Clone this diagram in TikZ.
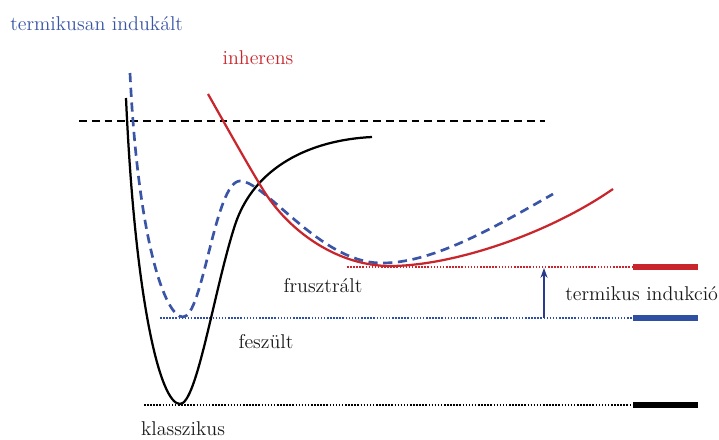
\documentclass[tikz,border=0pt]{standalone}
\usepackage{tikz}
\usetikzlibrary{arrows.meta,positioning}
\definecolor{kurvblue}{HTML}{3A55A6}
\definecolor{barblue}{HTML}{2F4FA3}
\definecolor{inhred}{HTML}{C8262C}
\definecolor{arrnavy}{HTML}{2A3B8F}
\definecolor{darktext}{HTML}{1A1A1A}

\begin{document}
\begin{tikzpicture}[x=0.25mm, y=-0.25mm,
  lbl/.style={font=\fontsize{14.2}{16}\selectfont, inner sep=0pt},
  levelline/.style={line width=1.6pt, dash pattern=on 1.1pt off 1.1pt},
  levelbar/.style={line width=3.6pt}]
\useasboundingbox (0,0) rectangle (719,439);

% labels
\node[lbl, anchor=west, text=kurvblue] (tind) at (10,24) {termikusan indukált};
\node[lbl, text=inhred] (inh) at (258,58) {inherens};
\node[lbl, text=darktext] (fru) at (323,286) {frusztrált};
\node[lbl, text=darktext] (fesz) at (266,342) {feszült};
\node[lbl, text=darktext] (klass) at (183,429) {klasszikus};
\node[lbl, anchor=west, text=darktext] (tindu) at (565,294) {termikus indukció};

% level lines
\coordinate (dL) at (79,121);  \coordinate (dR) at (545,121);
\coordinate (rL) at (347,267); \coordinate (rM) at (633,267); \coordinate (rR) at (698,267);
\coordinate (bL) at (160,318); \coordinate (bM) at (633,318); \coordinate (bR) at (698,318);
\coordinate (kL) at (144,405); \coordinate (kM) at (633,405); \coordinate (kR) at (698,405);

\draw[black, line width=1.4pt, dash pattern=on 5.5pt off 3.6pt] (dL) -- (dR);
\draw[levelline, inhred] (rL) -- (rM);
\draw[levelbar, inhred] (rM) -- (rR);
\draw[levelline, barblue] (bL) -- (bM);
\draw[levelbar, barblue] (bM) -- (bR);
\draw[levelline, black] (kL) -- (kM);
\draw[levelbar, black] (kM) -- (kR);

% curves
\draw[black, line width=1.6pt] (126,98) .. controls (135,300) and (160,404) .. (180,404)
  .. controls (197,404) and (214,290) .. (235,225)
  .. controls (254,167) and (310,140) .. (372,137);
\draw[kurvblue, line width=1.9pt, dash pattern=on 6.5pt off 4pt] (130,73) .. controls (138,240) and (165,317) .. (183,317)
  .. controls (203,317) and (215,181) .. (240,181)
  .. controls (265,181) and (320,262) .. (380,263)
  .. controls (430,264) and (490,230) .. (553,194);
\draw[inhred, line width=1.6pt] (208,94) .. controls (225,124) and (245,160) .. (262,188)
  .. controls (290,234) and (340,266) .. (390,266)
  .. controls (450,266) and (545,236) .. (613,189);

% arrow
\coordinate (aS) at (544,318);
\coordinate (aE) at (544,268);
\draw[arrnavy, line width=1.2pt, -{Stealth[length=7pt, width=5pt]}] (aS) -- (aE);
\end{tikzpicture}
\end{document}
